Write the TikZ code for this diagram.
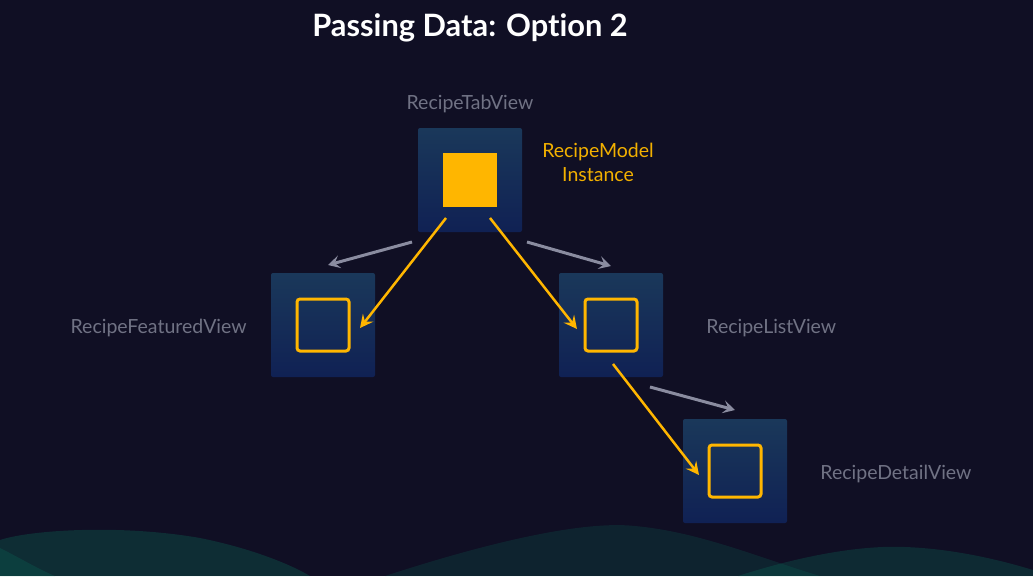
\documentclass[tikz,border=0pt]{standalone}
\usepackage{fontspec}
\setmainfont{Lato}[Ligatures={NoCommon,NoRare}]
\usetikzlibrary{arrows.meta,positioning}

\definecolor{night}{RGB}{16,15,36}
\definecolor{boxtop}{RGB}{26,56,90}
\definecolor{boxbot}{RGB}{16,33,84}
\definecolor{amber}{RGB}{255,182,0}
\definecolor{amberText}{RGB}{242,176,0}
\definecolor{mist}{RGB}{138,140,160}
\definecolor{viewGray}{RGB}{112,114,132}
\definecolor{hill}{RGB}{10,115,92}

\begin{document}
\begin{tikzpicture}[x=1pt, y=-1pt,
   box/.style = {minimum size=104pt, inner sep=0pt, rounded corners=2pt,
                 top color=boxtop, bottom color=boxbot},
   core/.style = {draw=amber, line width=3pt, rounded corners=3pt,
                  minimum size=52pt, inner sep=0pt},
   viewname/.style = {text=viewGray, font=\fontsize{19.5}{23}\selectfont, inner sep=0pt},
   flow/.style = {draw=amber, line width=2.5pt,
                  -{Stealth[length=13pt,width=13pt,inset=5pt]}},
   hint/.style = {draw=mist, line width=3pt,
                  -{Stealth[length=12pt,width=13pt,inset=5pt]}}]

   % background and hills
   \fill[night] (0,0) rectangle (1033,576);
   \useasboundingbox (0,0) rectangle (1033,576);
   \fill[hill, opacity=0.3] (0,540) .. controls (30,530) and (120,524) .. (200,538)
        .. controls (250,548) and (290,564) .. (310,576) -- (0,576) -- cycle;
   \fill[hill, opacity=0.25] (0,548) .. controls (20,558) and (40,570) .. (55,576) -- (0,576) -- cycle;
   \fill[hill, opacity=0.2] (385,576) .. controls (480,545) and (580,520) .. (635,526)
        .. controls (700,532) and (760,558) .. (820,576) -- cycle;
   \fill[hill, opacity=0.27] (738,576) .. controls (800,556) and (860,545) .. (905,547)
        .. controls (960,549) and (1010,563) .. (1033,570) -- (1033,576) -- cycle;

   % title
   \node[text=white, font=\bfseries\fontsize{30.8}{36}\selectfont] (title) at (470,28) {Passing Data: Option 2};

   % views
   \node[box] (tab) at (470,180) {};
   \node[box] (feat) at (323,325) {};
   \node[box] (list) at (611,325) {};
   \node[box] (detail) at (735,471) {};

   \node[fill=amber, minimum size=54pt, inner sep=0pt] (model) at (tab) {};
   \node[core] (featcore) at (feat) {};
   \node[core] (listcore) at (list) {};
   \node[core] (detailcore) at (detail) {};

   \node[viewname] (tabname) at (470,104) {RecipeTabView};
   \node[viewname, left=24pt of feat, yshift=-3pt] (featname) {RecipeFeaturedView};
   \node[viewname, right=43pt of list, yshift=-3pt] (listname) {RecipeListView};
   \node[viewname, right=33pt of detail, yshift=-3pt] (detailname) {RecipeDetailView};
   \node[text=amberText, font=\fontsize{19.5}{24}\selectfont, align=center, inner sep=0pt]
        (modelname) at (598,162) {RecipeModel\\Instance};

   % hierarchy
   \coordinate (h1) at (412,242); \coordinate (h1e) at (328,265);
   \coordinate (h2) at (527,242); \coordinate (h2e) at (611,266);
   \coordinate (h3) at (650,387); \coordinate (h3e) at (735,410);
   \draw[hint] (h1) -- (h1e);
   \draw[hint] (h2) -- (h2e);
   \draw[hint] (h3) -- (h3e);

   % model passed down
   \coordinate (f1) at (446,218); \coordinate (f1e) at (360,328);
   \coordinate (f2) at (490,218); \coordinate (f2e) at (577,329);
   \coordinate (f3) at (613,364); \coordinate (f3e) at (699,475);
   \draw[flow] (f1) -- (f1e);
   \draw[flow] (f2) -- (f2e);
   \draw[flow] (f3) -- (f3e);
\end{tikzpicture}
\end{document}
